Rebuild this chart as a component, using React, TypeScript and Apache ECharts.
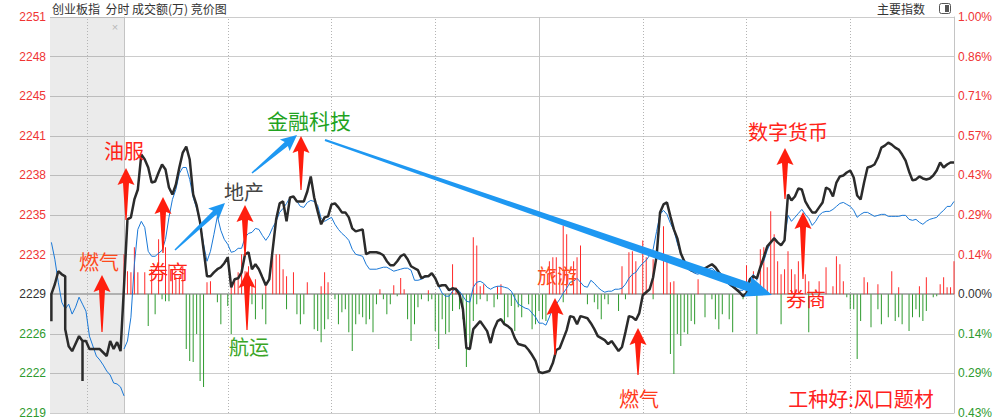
import React, { useEffect, useRef } from 'react';
import * as echarts from 'echarts';

// ---- reference values ----
const BASE_PRICE = 2229.2; // previous close (0.00%)
const STEP = (BASE_PRICE * 0.01) / 7; // one grid step = 1/7 %

const leftLabels = ['2219', '2222', '2226', '2229', '2232', '2235', '2238', '2241', '2245', '2248', '2251'];
const rightLabels = ['0.43%', '0.29%', '0.14%', '0.00%', '0.14%', '0.29%', '0.43%', '0.57%', '0.71%', '0.86%', '1.00%'];

// call-auction (pre-market) section, minutes before 9:30 : [minute, value]
const auctionPrice: [number, number][] = [
  [-21, 2227.03], [-21, 2229.2], [-20, 2230.0], [-19, 2231.05], [-18, 2230.8], [-17, 2230.64], [-17, 2226.39],
  [-16, 2225.02], [-15, 2224.62], [-13, 2225.83], [-12, 2225.43], [-12, 2222.21], [-12, 2225.43], [-11, 2225.43],
  [-10, 2224.79], [-7, 2224.79], [-5, 2224.23], [-4, 2225.43], [-3, 2224.79], [-2, 2225.35], [-1, 2224.62],
];
const auctionAvg: [number, number][] = [
  [-21, 2233.37], [-20, 2232.01], [-19, 2230.16], [-18, 2228.56], [-17, 2228.0], [-16, 2228.4], [-15, 2227.6],
  [-14, 2228.16], [-13, 2228.96], [-12, 2228.4], [-11, 2227.84], [-10, 2225.83], [-9, 2225.03], [-8, 2224.23],
  [-7, 2223.91], [-6, 2223.5], [-5, 2223.02], [-4, 2222.7], [-3, 2222.06], [-2, 2221.98], [-1, 2221.74], [0, 2221.02],
];

// trading minutes 0..240 : index price
const price: number[] = [
  2229.84, 2235.22, 2235.38, 2236.82, 2237.62, 2240.43, 2240.03, 2239.39, 2238.18, 2238.26,
  2238.99, 2239.63, 2239.23, 2237.78, 2237.22, 2238.02, 2239.39, 2240.59, 2241.07, 2240.03,
  2237.22, 2236.34, 2234.98, 2232.81, 2230.64, 2230.64, 2230.96, 2231.21, 2231.37, 2231.69,
  2232.17, 2229.76, 2230.40, 2230.48, 2230.96, 2232.41, 2232.57, 2231.21, 2231.61, 2231.21,
  2230.56, 2229.92, 2230.40, 2232.81, 2235.22, 2236.50, 2236.66, 2235.06, 2236.98, 2237.06,
  2236.66, 2236.66, 2236.66, 2237.46, 2238.67, 2236.98, 2235.86, 2234.82, 2235.38, 2235.46,
  2236.42, 2236.50, 2236.18, 2235.78, 2235.78, 2235.38, 2234.49, 2234.25, 2234.33, 2234.41,
  2232.41, 2232.57, 2232.57, 2232.57, 2232.49, 2232.33, 2231.85, 2231.53, 2231.53, 2231.85,
  2232.25, 2232.41, 2232.01, 2231.45, 2231.29, 2231.13, 2230.48, 2230.64, 2230.64, 2230.88,
  2230.48, 2229.84, 2229.92, 2229.92, 2229.52, 2229.68, 2229.60, 2229.20, 2228.00, 2224.87,
  2224.79, 2226.39, 2226.71, 2227.03, 2226.63, 2226.23, 2225.27, 2226.39, 2227.03, 2227.19,
  2226.79, 2226.63, 2226.39, 2225.67, 2225.19, 2225.11, 2225.03, 2224.71, 2224.31, 2223.83,
  2222.94, 2222.86, 2222.94, 2223.02, 2223.66, 2224.71, 2224.87, 2225.59, 2226.31, 2227.44,
  2227.36, 2226.79, 2227.44, 2227.36, 2227.27, 2226.87, 2226.39, 2225.83, 2225.67, 2225.51,
  2225.19, 2225.43, 2225.03, 2224.63, 2224.95, 2226.15, 2227.44, 2227.36, 2227.11, 2227.68,
  2229.12, 2229.36, 2229.60, 2230.56, 2232.25, 2235.78, 2236.42, 2236.58, 2235.46, 2234.41,
  2233.69, 2232.49, 2231.85, 2231.37, 2231.13, 2231.05, 2231.05, 2231.21, 2231.29, 2231.45,
  2231.61, 2231.37, 2230.96, 2230.64, 2230.48, 2230.08, 2229.84, 2229.60, 2229.36, 2229.04,
  2229.28, 2230.40, 2230.64, 2230.48, 2231.37, 2232.17, 2233.05, 2233.37, 2233.69, 2233.37,
  2233.13, 2233.53, 2237.22, 2236.74, 2237.06, 2237.70, 2237.62, 2236.66, 2236.18, 2235.78,
  2235.78, 2236.18, 2236.58, 2237.78, 2237.62, 2237.06, 2238.18, 2238.67, 2238.75, 2238.99,
  2239.15, 2238.59, 2237.14, 2236.82, 2238.18, 2239.39, 2239.47, 2239.63, 2240.19, 2240.99,
  2241.15, 2241.39, 2241.23, 2240.99, 2240.83, 2240.43, 2239.95, 2239.07, 2238.35, 2238.43,
  2238.67, 2238.51, 2238.43, 2238.51, 2238.75, 2239.15, 2239.79, 2239.39, 2239.63, 2239.79,
  2239.79,
];

// trading minutes 0..240 : average (blue) line
const avgPrice: number[] = [
  2224.79, 2225.43, 2227.35, 2231.61, 2234.41, 2235.06, 2234.57, 2232.65, 2232.25, 2232.25,
  2232.49, 2232.73, 2233.61, 2235.38, 2236.82, 2237.62, 2238.91, 2239.39, 2239.39, 2238.43,
  2236.98, 2236.10, 2234.98, 2233.21, 2231.85, 2232.65, 2234.01, 2235.46, 2234.33, 2233.61,
  2233.21, 2232.57, 2232.65, 2232.89, 2232.89, 2233.77, 2234.09, 2234.17, 2234.49, 2234.41,
  2233.93, 2233.53, 2233.93, 2234.57, 2235.06, 2235.78, 2236.10, 2236.50, 2236.98, 2237.06,
  2236.66, 2236.26, 2236.18, 2236.58, 2236.74, 2236.66, 2236.34, 2235.30, 2235.06, 2235.22,
  2235.38, 2234.82, 2234.41, 2234.09, 2233.85, 2233.53, 2232.81, 2232.41, 2232.33, 2232.25,
  2231.61, 2231.21, 2231.21, 2231.21, 2231.29, 2231.37, 2231.37, 2231.21, 2231.05, 2231.13,
  2231.21, 2231.29, 2231.29, 2231.13, 2230.32, 2230.32, 2230.40, 2230.56, 2230.64, 2230.80,
  2230.48, 2229.84, 2229.28, 2229.04, 2229.04, 2229.44, 2229.68, 2229.44, 2229.04, 2228.64,
  2228.56, 2229.76, 2230.16, 2230.24, 2230.08, 2229.76, 2229.60, 2229.76, 2229.84, 2229.84,
  2229.76, 2229.68, 2229.44, 2228.88, 2228.40, 2228.24, 2228.08, 2228.00, 2227.68, 2227.36,
  2226.87, 2226.87, 2226.71, 2227.36, 2228.08, 2228.40, 2228.80, 2229.28, 2229.68, 2230.16,
  2230.24, 2230.48, 2230.16, 2229.84, 2229.76, 2230.32, 2230.08, 2229.76, 2229.52, 2229.36,
  2229.44, 2229.44, 2229.60, 2229.60, 2229.68, 2230.00, 2230.48, 2230.80, 2230.96, 2231.37,
  2231.69, 2231.93, 2232.33, 2232.81, 2234.25, 2235.62, 2235.94, 2235.62, 2234.90, 2234.33,
  2233.29, 2232.41, 2231.85, 2231.21, 2231.05, 2230.88, 2230.80, 2231.05, 2231.21, 2231.21,
  2231.29, 2231.05, 2230.80, 2230.48, 2230.24, 2229.92, 2229.76, 2229.60, 2229.52, 2229.52,
  2230.00, 2230.48, 2230.80, 2230.32, 2231.37, 2231.85, 2232.73, 2233.37, 2233.77, 2233.37,
  2233.13, 2233.61, 2235.54, 2235.06, 2235.38, 2235.70, 2236.02, 2235.62, 2235.30, 2234.73,
  2235.06, 2235.54, 2235.78, 2235.86, 2235.86, 2236.02, 2236.26, 2236.50, 2236.58, 2236.42,
  2236.26, 2235.94, 2235.38, 2235.62, 2235.78, 2235.78, 2235.62, 2235.46, 2235.54, 2235.62,
  2235.62, 2235.46, 2235.46, 2235.46, 2235.46, 2235.54, 2235.54, 2235.22, 2235.14, 2235.22,
  2234.98, 2234.82, 2235.06, 2235.22, 2235.30, 2235.38, 2235.70, 2235.94, 2236.26, 2236.26,
  2236.66,
];

// amount bars in % of the right scale : [minute, value]
const redBars: [number, number][] = [
  [0, 0.144], [1, 0.083], [2, 0.079], [3, 0.169], [4, 0.079], [6, 0.079], [8, 0.09], [10, 0.198], [12, 0.169],
  [13, 0.108], [14, 0.09], [15, 0.061], [16, 0.065], [17, 0.101], [24, 0.043], [25, 0.047], [31, 0.029],
  [32, 0.054], [33, 0.079], [34, 0.144], [35, 0.083], [36, 0.101], [37, 0.043], [38, 0.054], [41, 0.043],
  [43, 0.137], [44, 0.144], [45, 0.144], [46, 0.09], [47, 0.065], [49, 0.079], [53, 0.043], [57, 0.029],
  [58, 0.079], [59, 0.043], [74, 0.018], [78, 0.032], [80, 0.058], [81, 0.018], [88, 0.014], [95, 0.108],
  [96, 0.025], [101, 0.205], [102, 0.176], [103, 0.029], [104, 0.036], [108, 0.029], [109, 0.036],
  [123, 0.119], [124, 0.133], [125, 0.133], [126, 0.097], [127, 0.248], [128, 0.216], [130, 0.119],
  [131, 0.133], [132, 0.176], [144, 0.101], [146, 0.151], [147, 0.155], [148, 0.119], [150, 0.194],
  [151, 0.133], [153, 0.126], [156, 0.245], [157, 0.119], [158, 0.043], [159, 0.047], [166, 0.054],
  [180, 0.104], [182, 0.083], [184, 0.162], [185, 0.169], [186, 0.097], [187, 0.299], [188, 0.216],
  [189, 0.119], [190, 0.072], [191, 0.09], [192, 0.155], [193, 0.09], [194, 0.072], [195, 0.119],
  [197, 0.072], [198, 0.047], [201, 0.047], [203, 0.097], [205, 0.029], [206, 0.137], [207, 0.108],
  [208, 0.047], [214, 0.061], [215, 0.043], [218, 0.036], [222, 0.083], [224, 0.025], [230, 0.029],
  [232, 0.061], [236, 0.036], [237, 0.061], [238, 0.025], [239, 0.025], [240, 0.119],
];
const greenBars: [number, number][] = [
  [7, -0.115], [9, -0.072], [11, -0.018], [12, -0.025], [13, -0.025], [18, -0.198], [19, -0.241], [20, -0.245],
  [21, -0.144], [22, -0.313], [23, -0.335], [27, -0.029], [28, -0.108], [30, -0.043], [31, -0.144], [37, -0.036],
  [38, -0.09], [40, -0.054], [41, -0.108], [47, -0.054], [50, -0.072], [51, -0.108], [52, -0.072], [55, -0.126],
  [56, -0.133], [57, -0.173], [58, -0.126], [59, -0.09], [61, -0.018], [62, -0.108], [63, -0.065], [64, -0.054],
  [65, -0.137], [66, -0.205], [67, -0.108], [68, -0.072], [69, -0.083], [70, -0.108], [71, -0.09], [72, -0.137],
  [73, -0.036], [75, -0.018], [76, -0.072], [77, -0.036], [79, -0.007], [82, -0.09], [83, -0.169], [84, -0.108],
  [85, -0.047], [86, -0.018], [88, -0.025], [89, -0.018], [90, -0.133], [91, -0.198], [92, -0.09], [93, -0.144],
  [94, -0.137], [95, -0.061], [97, -0.054], [98, -0.09], [99, -0.263], [100, -0.198], [101, -0.097],
  [102, -0.036], [103, -0.018], [105, -0.025], [107, -0.047], [108, -0.018], [110, -0.108], [111, -0.083],
  [112, -0.043], [113, -0.133], [114, -0.047], [115, -0.083], [117, -0.036], [118, -0.126], [119, -0.108],
  [120, -0.061], [121, -0.09], [122, -0.097], [127, -0.029], [134, -0.036], [136, -0.029], [137, -0.054],
  [138, -0.09], [139, -0.018], [140, -0.036], [143, -0.061], [145, -0.018], [153, -0.018], [158, -0.216],
  [159, -0.288], [160, -0.144], [161, -0.187], [162, -0.137], [163, -0.144], [164, -0.097], [165, -0.108],
  [168, -0.083], [170, -0.018], [171, -0.09], [172, -0.126], [173, -0.072], [175, -0.09], [176, -0.137],
  [179, -0.018], [183, -0.144], [190, -0.108], [198, -0.137], [209, -0.011], [210, -0.054], [211, -0.054],
  [212, -0.234], [213, -0.097], [216, -0.119], [218, -0.054], [219, -0.108], [221, -0.083], [223, -0.097],
  [224, -0.083], [225, -0.108], [227, -0.133], [228, -0.083], [229, -0.054], [230, -0.083], [231, -0.097],
  [232, -0.061], [234, -0.011], [235, -0.007],
];

// time dividers (minutes from 9:30)
const dottedDividers = [-10.7, 30, 60, 90, 150, 180, 210];
const solidDividers = [0, 120];

// ---- annotation layout (pixels) ----
const labelTexts = [
  { text: '燃气', x: 99, y: 261, color: '#ff4a1c', size: 20 },
  { text: '油服', x: 124, y: 150, color: '#ff2418', size: 20 },
  { text: '券商', x: 168, y: 271, color: '#ff2418', size: 20 },
  { text: '地产', x: 244, y: 191, color: '#444444', size: 20 },
  { text: '金融科技', x: 309, y: 120, color: '#1fa31f', size: 21 },
  { text: '航运', x: 249, y: 346, color: '#3aa526', size: 20 },
  { text: '旅游', x: 557, y: 275, color: '#ff4a1c', size: 20 },
  { text: '燃气', x: 639, y: 398, color: '#ff3a1c', size: 20 },
  { text: '数字货币', x: 788, y: 131, color: '#ff2418', size: 20 },
  { text: '券商', x: 806, y: 298, color: '#ff2418', size: 20 },
  { text: '工种好:风口题材', x: 861, y: 398, color: '#ff2020', size: 20 },
];
const redArrows = [
  [102, 275, 332], [126, 168, 220], [163, 197, 253], [245, 205, 256], [247, 271, 330],
  [301, 136, 190], [555, 298, 355], [638, 328, 375], [785, 148, 199], [803, 212, 279],
];
const blueArrows = [
  { from: [175, 250], to: [225, 203], tail: 1.5, shaft: 5, headLen: 16, headW: 15 },
  { from: [252, 173], to: [297, 135], tail: 1.5, shaft: 5, headLen: 16, headW: 15 },
  { from: [325, 140], to: [772, 295], tail: 2, shaft: 9, headLen: 26, headW: 21 },
];

function arrowPoints(x1: number, y1: number, x2: number, y2: number, tailW: number, shaftW: number, headLen: number, headW: number) {
  const dx = x2 - x1, dy = y2 - y1;
  const L = Math.hypot(dx, dy);
  const ux = dx / L, uy = dy / L, nx = -uy, ny = ux;
  const bx = x2 - ux * headLen, by = y2 - uy * headLen;
  const jx = bx + ux * 2, jy = by + uy * 2;
  return [
    [x1 + (nx * tailW) / 2, y1 + (ny * tailW) / 2],
    [jx + (nx * shaftW) / 2, jy + (ny * shaftW) / 2],
    [bx + (nx * headW) / 2, by + (ny * headW) / 2],
    [x2, y2],
    [bx - (nx * headW) / 2, by - (ny * headW) / 2],
    [jx - (nx * shaftW) / 2, jy - (ny * shaftW) / 2],
    [x1 - (nx * tailW) / 2, y1 - (ny * tailW) / 2],
  ];
}

const toStep = (p: number) => (p - BASE_PRICE) / STEP;
const pctToStep = (v: number) => v * 7;

const RED = '#f03434';
const GREEN = '#2e9a2e';
const MID = '#333333';
const FONT = '"Liberation Sans", Arial, sans-serif';
const CJK = '"Noto Sans CJK SC", sans-serif';

function labelRich() {
  return {
    up: { color: RED, fontSize: 12, fontFamily: FONT },
    mid: { color: MID, fontSize: 12, fontFamily: FONT },
    down: { color: GREEN, fontSize: 12, fontFamily: FONT },
  };
}
function labelFormatter(labels: string[]) {
  return (v: number) => {
    const i = Math.round(v) + 3;
    const cls = i > 3 ? 'up' : i === 3 ? 'mid' : 'down';
    return `{${cls}|${labels[i] ?? ''}}`;
  };
}

function buildOption(): any {
  const graphics: any[] = [];
  graphics.push({
    type: 'text', x: 52, y: 2, z: 100,
    style: { text: '创业板指  分时 成交额(万) 竞价图', fill: '#333', font: `12px ${CJK}` },
  });
  graphics.push({
    type: 'text', x: 877, y: 2, z: 100,
    style: { text: '主要指数', fill: '#333', font: `12px ${CJK}` },
  });
  graphics.push({ type: 'rect', z: 100, shape: { x: 939.5, y: 3.5, width: 11, height: 10, r: 2 }, style: { fill: 'none', stroke: '#555', lineWidth: 1 } });
  graphics.push({ type: 'rect', z: 100, shape: { x: 945, y: 5, width: 4, height: 7 }, style: { fill: '#555' } });
  graphics.push({
    type: 'text', x: 115, y: 27, z: 100,
    style: { text: '×', fill: '#b8b8b8', font: `11px ${FONT}`, textAlign: 'center', textVerticalAlign: 'middle' },
  });

  blueArrows.forEach((a) => {
    graphics.push({
      type: 'polygon', z: 60,
      shape: { points: arrowPoints(a.from[0], a.from[1], a.to[0], a.to[1], a.tail, a.shaft, a.headLen, a.headW) },
      style: { fill: '#1e98f2' },
    });
  });
  redArrows.forEach(([x, tip, bottom]) => {
    graphics.push({
      type: 'polygon', z: 61,
      shape: { points: arrowPoints(x, bottom, x, tip, 1.2, 6, 17, 17) },
      style: { fill: '#ff1e0e' },
    });
  });
  labelTexts.forEach((t) => {
    graphics.push({
      type: 'text', x: t.x, y: t.y, z: 62,
      style: {
        text: t.text, fill: t.color, font: `${t.size}px ${CJK}`,
        textAlign: 'center', textVerticalAlign: 'middle', align: 'center', verticalAlign: 'middle',
      },
    });
  });

  const vLines = [
    ...dottedDividers.map((m) => ({ xAxis: m, lineStyle: { color: '#b4b4b4', width: 1, type: [1, 2] } })),
    ...solidDividers.map((m) => ({ xAxis: m, lineStyle: { color: '#c4c4c4', width: 1, type: 'solid' } })),
  ];

  return {
    animation: false,
    backgroundColor: '#ffffff',
    grid: { left: 50, right: 51, top: 17, bottom: 5 },
    xAxis: {
      type: 'value', min: -21.4, max: 240,
      axisLine: { show: false }, axisTick: { show: false }, axisLabel: { show: false }, splitLine: { show: false },
    },
    yAxis: [
      {
        type: 'value', min: -3, max: 7, interval: 1, position: 'left',
        axisLine: { show: true, lineStyle: { color: '#c4c4c4' } },
        axisTick: { show: false },
        axisLabel: { margin: 4, formatter: labelFormatter(leftLabels), rich: labelRich(), fontFamily: FONT, fontSize: 12 },
        splitLine: { show: true, lineStyle: { color: '#cccccc', width: 1 } },
      },
      {
        type: 'value', min: -3, max: 7, interval: 1, position: 'right',
        axisLine: { show: true, lineStyle: { color: '#c4c4c4' } },
        axisTick: { show: false },
        axisLabel: { margin: 4, formatter: labelFormatter(rightLabels), rich: labelRich(), fontFamily: FONT, fontSize: 12 },
        splitLine: { show: false },
      },
    ],
    series: [
      {
        name: 'up amount', type: 'bar', z: 2, silent: true,
        barWidth: 1,
        data: redBars.map(([m, v]) => [m, pctToStep(v)]),
        itemStyle: { color: '#ff2a2a' },
        markArea: {
          silent: true, z: 1,
          itemStyle: { color: 'rgba(0,0,0,0.08)' },
          data: [[{ xAxis: -21.4 }, { xAxis: 0 }]],
        },
        markLine: {
          silent: true, z: 1, symbol: ['none', 'none'], label: { show: false },
          data: [{ yAxis: 0, lineStyle: { color: '#b0b0b0', width: 2, type: 'solid' } }, ...vLines],
        },
      },
      {
        name: 'down amount', type: 'bar', z: 2, silent: true,
        barWidth: 1, barGap: '-100%',
        data: greenBars.map(([m, v]) => [m, pctToStep(v)]),
        itemStyle: { color: GREEN },
      },
      {
        name: 'auction avg', type: 'line', z: 3, silent: true, symbol: 'none',
        data: auctionAvg.map(([m, p]) => [m, toStep(p)]),
        lineStyle: { color: '#1a78d6', width: 1 },
      },
      {
        name: 'avg', type: 'line', z: 3, silent: true, symbol: 'none',
        data: avgPrice.map((p, i) => [i, toStep(p)]),
        lineStyle: { color: '#1a78d6', width: 1 },
      },
      {
        name: 'price', type: 'line', z: 4, silent: true, symbol: 'none',
        data: [...auctionPrice.map(([m, p]) => [m, toStep(p)]), ...price.map((p, i) => [i, toStep(p)])],
        lineStyle: { color: '#2b2b2b', width: 2.5 },
      },
    ],
    graphic: { elements: graphics },
  };
}

export default function App() {
  const ref = useRef<HTMLDivElement>(null);
  useEffect(() => {
    if (!ref.current) return;
    const chart = echarts.init(ref.current, undefined, { renderer: 'svg' });
    chart.setOption(buildOption());
    return () => chart.dispose();
  }, []);
  return (
    <div
      ref={ref}
      style={{ position: 'fixed', left: 0, top: 0, width: 1005, height: 419, background: '#ffffff' }}
    />
  );
}
